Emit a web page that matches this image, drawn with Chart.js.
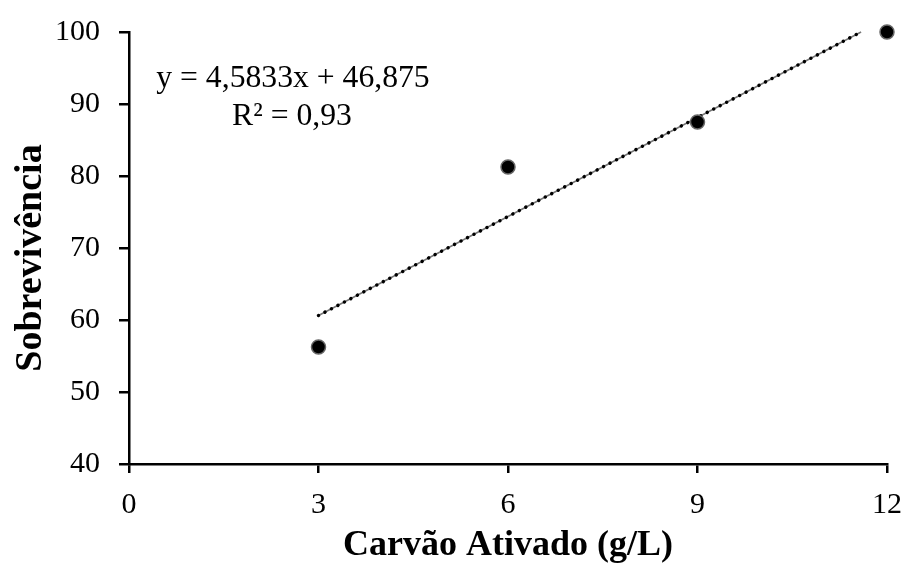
<!DOCTYPE html>
<html>
<head>
<meta charset="utf-8">
<script src="https://cdn.jsdelivr.net/npm/chart.js@4.4.1/dist/chart.umd.min.js"></script>
<style>
html,body{margin:0;padding:0;background:#fff;}
#wrap{width:906px;height:565px;position:relative;}
</style>
</head>
<body>
<div id="wrap"><canvas id="c" width="906" height="565"></canvas></div>
<script>
// Data
const carvao = [3, 6, 9, 12];
const sobrevivencia = [56.25, 81.25, 87.5, 100];
const trendX = [3, 11.59];
const trendY = [60.625, 100];
const xTicks = [0, 3, 6, 9, 12];
const yTicks = [40, 50, 60, 70, 80, 90, 100];
const equationLines = ['y = 4,5833x + 46,875', 'R² = 0,93'];
const xTitle = 'Carvão Ativado (g/L)';
const yTitle = 'Sobrevivência';

const FONT = '"Liberation Serif", "Times New Roman", serif';

const points = carvao.map((x, i) => ({x, y: sobrevivencia[i]}));
const trend = trendX.map((x, i) => ({x, y: trendY[i]}));

const textPlugin = {
  id: 'texts',
  afterDraw(chart) {
    const ctx = chart.ctx;
    ctx.save();
    ctx.fillStyle = '#000';
    ctx.font = '31.7px ' + FONT;
    ctx.textAlign = 'center';
    ctx.textBaseline = 'alphabetic';
    ctx.fillText(equationLines[0], 293, 87);
    ctx.fillText(equationLines[1], 292, 125);
    // y title
    ctx.translate(41, 258);
    ctx.rotate(-Math.PI / 2);
    ctx.font = 'bold 38px ' + FONT;
    ctx.textAlign = 'center';
    ctx.textBaseline = 'alphabetic';
    ctx.fillText(yTitle, 0, 0);
    ctx.restore();
  }
};

new Chart(document.getElementById('c'), {
  type: 'scatter',
  data: {
    datasets: [
      {
        data: trend, showLine: true, borderColor: '#777', borderWidth: 1.5,
        pointRadius: 0, pointHoverRadius: 0, fill: false, order: 3, clip: false
      },
      {
        data: trend, showLine: true, borderColor: '#000', borderWidth: 3.5,
        borderDash: [0.01, 7.3], borderCapStyle: 'round',
        pointRadius: 0, pointHoverRadius: 0, fill: false, order: 2, clip: false
      },
      {
        data: points, pointRadius: 7, pointBackgroundColor: '#000',
        pointBorderColor: '#666', pointBorderWidth: 1.5, order: 1, clip: false
      }
    ]
  },
  options: {
    responsive: false,
    animation: false,
    events: [],
    layout: { padding: { left: 0, right: 19, top: 32, bottom: 0 } },
    plugins: { legend: { display: false }, tooltip: { enabled: false } },
    scales: {
      x: {
        type: 'linear', min: 0, max: 12,
        afterBuildTicks: (s) => { s.ticks = xTicks.map(v => ({value: v})); },
        afterFit: (s) => { s.height = 101; s.paddingLeft = 0; s.paddingRight = 0; },
        border: { display: true, color: '#000', width: 2.5 },
        grid: { display: true, drawOnChartArea: false, drawTicks: true, tickLength: 9, color: '#000', lineWidth: 2.5 },
        ticks: { color: '#000', font: { family: FONT, size: 30 }, padding: 14, maxRotation: 0 },
        title: { display: true, text: xTitle, color: '#000', font: { family: FONT, size: 36, weight: 'bold', lineHeight: 1 }, padding: { top: 0, bottom: 1 } }
      },
      y: {
        type: 'linear', min: 40, max: 100,
        afterBuildTicks: (s) => { s.ticks = yTicks.map(v => ({value: v})); },
        afterFit: (s) => { s.width = 129; s.paddingTop = 0; s.paddingBottom = 0; },
        border: { display: true, color: '#000', width: 2.5 },
        grid: { display: true, drawOnChartArea: false, drawTicks: true, tickLength: 10, color: '#000', lineWidth: 2.5 },
        ticks: { color: '#000', font: { family: FONT, size: 30 }, padding: 19 }
      }
    }
  },
  plugins: [textPlugin]
});
</script>
</body>
</html>
